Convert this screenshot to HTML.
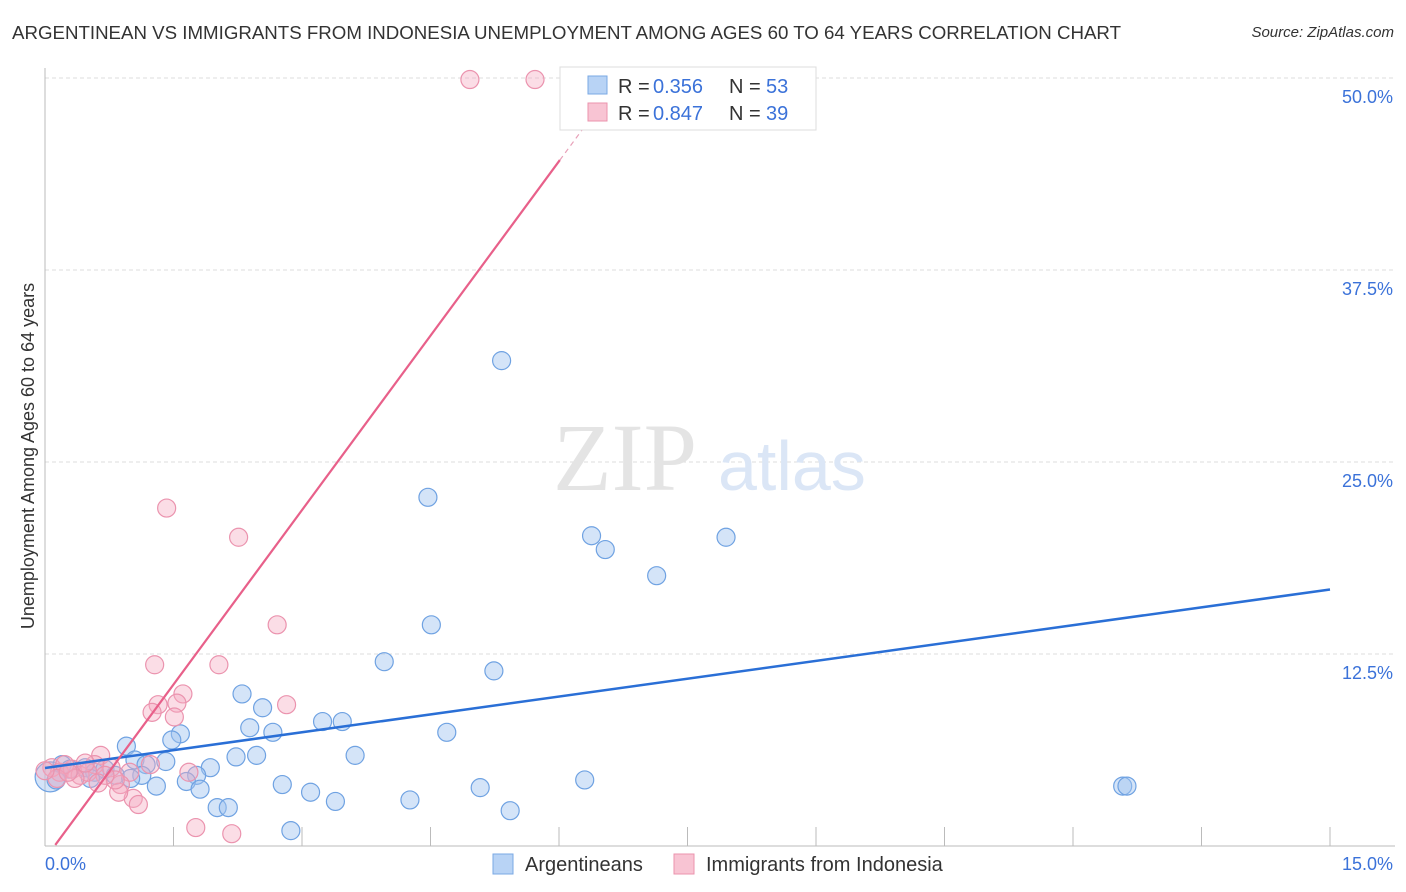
<!DOCTYPE html>
<html><head><meta charset="utf-8"><style>
body{margin:0;background:#fff;font-family:"Liberation Sans",sans-serif;}
#wrap{position:relative;width:1406px;height:892px;overflow:hidden;}
.t{position:absolute;white-space:nowrap;}
</style></head><body>
<div id="wrap">
<div class="t" style="left:12px;top:22px;font-size:18.7px;color:#333;">ARGENTINEAN VS IMMIGRANTS FROM INDONESIA UNEMPLOYMENT AMONG AGES 60 TO 64 YEARS CORRELATION CHART</div>
<div class="t" style="right:12px;top:24px;font-size:15px;color:#333;font-style:italic;">Source: ZipAtlas.com</div>
<svg id="svg" width="1406" height="892" style="position:absolute;left:0;top:0"></svg>
</div>
<script>
const yTicks=[12.5,25,37.5,50];
const yTickLabels=["12.5%","25.0%","37.5%","50.0%"];
const xTickLabels=["0.0%","15.0%"];
const blueX=[5.33,4.47,6.38,6.54,7.95,7.14,4.51,3.96,5.24,2.30,2.54,3.24,3.47,2.39,2.66,4.69,1.58,1.48,0.95,2.23,2.47,3.62,1.41,1.05,1.93,1.18,1.77,1.65,1.13,1.81,1.30,2.77,3.10,3.39,4.26,5.08,6.30,5.43,2.01,2.14,2.87,12.58,12.63,0.06,0.2,0.29,0.47,0.58,0.7,0.82,0.13,0.53,1.0];
const blueY=[31.6,22.7,20.2,19.3,20.1,17.6,14.4,12.0,11.4,9.9,9.0,8.1,8.1,7.7,7.4,7.4,7.3,6.9,6.5,5.8,5.9,5.9,5.5,5.6,5.1,5.3,4.6,4.2,4.6,3.7,3.9,4.0,3.5,2.9,3.0,3.8,4.3,2.3,2.5,2.5,1.0,3.9,3.9,4.5,5.3,5.0,5.1,4.8,5.0,4.6,4.3,4.4,4.4];
const pinkX=[4.96,5.72,1.42,2.26,2.71,1.28,2.03,1.61,1.32,1.54,2.82,1.25,1.51,0.65,1.23,0.99,1.68,0.77,0.88,1.03,1.09,1.76,2.18,0.86,0.82,0.08,0.17,0.32,0.41,0.58,0.23,0.5,0.14,0.7,0.35,0.0,0.62,0.27,0.47];
const pinkY=[49.9,49.9,22.0,20.1,14.4,11.8,11.8,9.9,9.2,9.3,9.2,8.7,8.4,5.9,5.3,4.8,4.8,5.1,4.0,3.1,2.7,1.2,0.8,3.5,4.3,5.1,4.8,5.0,4.6,5.3,5.3,4.8,4.4,4.6,4.4,4.9,4.1,4.8,5.4];
const blueTrend=[5.08,16.7];
const pinkSlope=7.57, pinkIntercept=-0.84;
const X0=45,X1=1330,Y0=846,Y1=78;
const sx=v=>X0+(X1-X0)*v/15, sy=v=>Y0-(Y0-Y1)*v/50;
const svg=document.getElementById('svg');const NS="http://www.w3.org/2000/svg";
function mk(tag,at,name){const e=document.createElementNS(NS,tag);for(const k in at)e.setAttribute(k,at[k]);


svg.appendChild(e);return e;}
yTicks.forEach((v,i)=>{mk('line',{x1:X0,x2:1395,y1:sy(v),y2:sy(v),stroke:'#ddd','stroke-dasharray':'4,3'},'gridline');
const t=mk('text',{x:1393,y:sy(v)+25,'text-anchor':'end','font-size':18,fill:'#3b72d9','font-family':'Liberation Sans'},'y-tick-label');t.textContent=yTickLabels[i];});
mk('line',{x1:X0,x2:X0,y1:68,y2:846,stroke:'#bbb'},'y-axis');
mk('line',{x1:X0,x2:1395,y1:846,y2:846,stroke:'#bbb'},'x-axis');
for(let i=1;i<=10;i++){const x=sx(i*1.5);mk('line',{x1:x,x2:x,y1:827,y2:846,stroke:'#bbb'},'x-tick');}
let t=mk('text',{x:45,y:870,'font-size':18,fill:'#3b72d9','font-family':'Liberation Sans'},'x-tick-label');t.textContent=xTickLabels[0];
t=mk('text',{x:1393,y:870,'text-anchor':'end','font-size':18,fill:'#3b72d9','font-family':'Liberation Sans'},'x-tick-label');t.textContent=xTickLabels[1];
t=mk('text',{x:0,y:0,transform:'translate(34,456) rotate(-90)','text-anchor':'middle','font-size':18,fill:'#333','font-family':'Liberation Sans'},'y-axis-title');t.textContent='Unemployment Among Ages 60 to 64 years';
t=mk('text',{x:553,y:490,'font-size':96,fill:'#e4e4e4','font-family':'Liberation Serif'},'watermark-zip');t.textContent='ZIP';
t=mk('text',{x:718,y:490,'font-size':70,fill:'#dbe6f6','font-family':'Liberation Sans'},'watermark-atlas');t.textContent='atlas';
blueX.forEach((v,i)=>{mk('circle',{cx:sx(v),cy:sy(blueY[i]),r:(i==43?15:9),fill:'rgba(160,196,240,0.45)',stroke:'#6fa2e2','stroke-width':1.2},'blue-point');});
pinkX.forEach((v,i)=>{mk('circle',{cx:sx(v),cy:sy(pinkY[i]),r:9,fill:'rgba(245,170,192,0.4)',stroke:'#eb93ae','stroke-width':1.2},'pink-point');});
mk('line',{x1:sx(0),y1:sy(blueTrend[0]),x2:sx(15),y2:sy(blueTrend[1]),stroke:'#2a6fd6','stroke-width':2.5},'blue-trend-line');
const pa=0.12,pb=6.01,pc=6.35;
mk('line',{x1:sx(pa),y1:sy(pinkIntercept+pinkSlope*pa),x2:sx(pb),y2:sy(pinkIntercept+pinkSlope*pb),stroke:'#e8608a','stroke-width':2.2},'pink-trend-line');
mk('line',{x1:sx(pb),y1:sy(pinkIntercept+pinkSlope*pb),x2:sx(pc),y2:sy(pinkIntercept+pinkSlope*pc),stroke:'#e8a0b8','stroke-width':1.2,'stroke-dasharray':'5,4'},'pink-trend-extension');
mk('rect',{x:560,y:67,width:256,height:63,fill:'#fff',stroke:'#ddd'},'legend-box');
mk('rect',{x:588,y:76,width:19,height:18,fill:'#b8d3f5',stroke:'#7aa8e4'},'legend-swatch-blue');
mk('rect',{x:588,y:103,width:19,height:18,fill:'#f8c4d3',stroke:'#eb93ae'},'legend-swatch-pink');
function legText(x,y,s,c,n){const e=mk('text',{x:x,y:y,'font-size':20,fill:c,'font-family':'Liberation Sans'},n);e.textContent=s;}
legText(618,93,'R =','#333','legend-r-label');legText(653,93,'0.356','#3b72d9','legend-r-blue');
legText(729,93,'N =','#333','legend-n-label');legText(766,93,'53','#3b72d9','legend-n-blue');
legText(618,120,'R =','#333','legend-r-label');legText(653,120,'0.847','#3b72d9','legend-r-pink');
legText(729,120,'N =','#333','legend-n-label');legText(766,120,'39','#3b72d9','legend-n-pink');
mk('rect',{x:493,y:854,width:20,height:20,fill:'#b8d3f5',stroke:'#7aa8e4'},'bottom-legend-swatch-blue');
legText(525,871,'Argentineans','#333','bottom-legend-argentineans');
mk('rect',{x:674,y:854,width:20,height:20,fill:'#f8c4d3',stroke:'#eb93ae'},'bottom-legend-swatch-pink');
legText(706,871,'Immigrants from Indonesia','#333','bottom-legend-indonesia');
</script>
</body></html>
